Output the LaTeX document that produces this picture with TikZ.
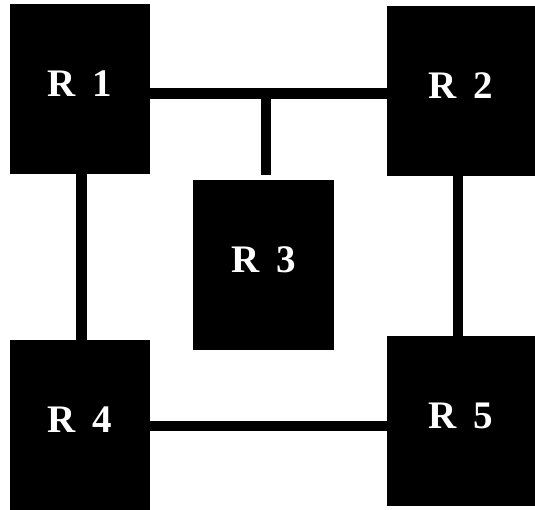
\documentclass[tikz,border=0pt]{standalone}
\usepackage{fontspec}
\setmainfont{Liberation Serif}
\begin{document}
\begin{tikzpicture}[x=1pt,y=-1pt,line width=10.7pt,
	router/.style={fill=black,inner sep=0pt,outer sep=0pt,text=white,font=\bfseries\fontsize{39}{39}\selectfont,text depth=10pt}]
	\useasboundingbox (0,0) rectangle (535,510);
	\node[router,minimum width=140pt,minimum height=170pt] (R1) at (80,89) {R\hspace{17pt}1};
	\node[router,minimum width=148pt,minimum height=170pt] (R2) at (461,91) {R\hspace{17pt}2};
	\node[router,minimum width=141pt,minimum height=170pt] (R3) at (263.5,265) {R\hspace{17pt}3};
	\node[router,minimum width=140pt,minimum height=170pt] (R4) at (80,425) {R\hspace{17pt}4};
	\node[router,minimum width=148pt,minimum height=170pt] (R5) at (461,421) {R\hspace{17pt}5};
	\coordinate (T) at (266,93.7);
	\coordinate (S) at (266,175);
	\coordinate (L) at (81.7,0);
	\coordinate (M) at (458,0);
	\coordinate (B) at (0,426);
	\draw (R1.east |- T)--(R2.west |- T) (T)--(S);
	\draw (L |- R1.south)--(L |- R4.north) (M |- R2.south)--(M |- R5.north);
	\draw (R4.east |- B)--(R5.west |- B);
\end{tikzpicture}
\end{document}
